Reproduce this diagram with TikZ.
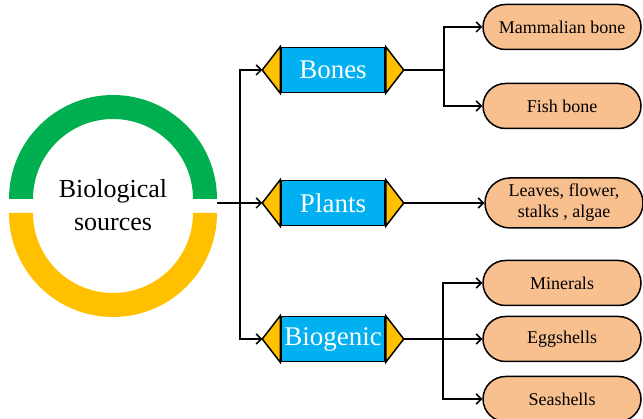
\documentclass[tikz,border=0pt]{standalone}
\usepackage{fontspec}
\setmainfont{Liberation Serif}
\usetikzlibrary{shapes.misc,arrows.meta}
\definecolor{ringgreen}{HTML}{00B050}
\definecolor{ringyellow}{HTML}{FFC000}
\definecolor{catblue}{HTML}{00B0F0}
\definecolor{leafpeach}{HTML}{F8BF8F}
\tikzset{
  catbox/.style={draw, line width=1.5pt, fill=catblue, text=white, minimum width=104pt, minimum height=45pt, inner sep=0pt, font=\fontsize{27}{29}\selectfont},
  tipfill/.style={draw, line width=1.5pt, fill=ringyellow, line join=miter},
  pill/.style={rounded rectangle, draw, line width=1.5pt, fill=leafpeach, minimum width=158pt, minimum height=45pt, inner sep=0pt, align=center, font=\fontsize{18}{21}\selectfont},
  link/.style={line width=1.5pt},
  arr/.style={line width=1.5pt, -{Straight Barb[length=5pt,width=10pt]}}
}
\begin{document}
\begin{tikzpicture}[x=1pt,y=-1pt]
				\useasboundingbox (0,0) rectangle (643,419);
				\begin{scope}
						% ring, two halves
						\fill[ringgreen] (9,199) arc[start angle=180, end angle=360, radius=104] -- (193,199) arc[start angle=360, end angle=180, radius=80] -- cycle;
						\fill[ringyellow] (9,213) arc[start angle=180, end angle=0, radius=104] -- (193,213) arc[start angle=0, end angle=180, radius=80] -- cycle;
						\node[align=center, font=\fontsize{26}{33}\selectfont] (src) at (113,205) {Biological\\sources};
						\coordinate (srcout) at (217,203);
						\coordinate (split) at (240,203);
				\end{scope}

				\begin{scope}
						\node[catbox] (bones) at (333,70) {Bones};
						\node[catbox] (plants) at (333,203) {Plants};
						\node[catbox] (biogenic) at (333,339) {Biogenic};
						\foreach \c in {bones,plants,biogenic}{
								\draw[tipfill] (\c.north west) -- ([xshift=-18pt]\c.west) coordinate (\c in) -- (\c.south west) -- cycle;
								\draw[tipfill] (\c.north east) -- ([xshift=18pt]\c.east) coordinate (\c out) -- (\c.south east) -- cycle;
						}
				\end{scope}

				\begin{scope}
						\node[pill] (mammal) at (562,27) {Mammalian bone};
						\node[pill] (fish) at (562,106) {Fish bone};
						\node[pill, minimum height=50pt] (leaves) at (564,203) {Leaves, flower,\\stalks , algae};
						\node[pill] (minerals) at (562,283) {Minerals};
						\node[pill] (eggs) at (562,339) {Eggshells};
						\node[pill] (seas) at (562,399) {Seashells};
				\end{scope}

	\draw[link] (srcout) -- (split);
	\draw[arr] (split) |- (bonesin);
	\draw[arr] (split) -- (plantsin);
	\draw[arr] (split) |- (biogenicin);

	\draw[link] (bonesout) -- ++(40,0) coordinate (bsplit);
	\draw[arr] (bsplit) |- (mammal.west);
	\draw[arr] (bsplit) |- (fish.west);
	\draw[arr] (plantsout) -- (leaves.west);
	\draw[arr] (biogenicout) -- (eggs.west);
	\coordinate (gsplit) at (443,339);
	\draw[arr] (gsplit) |- (minerals.west);
	\draw[arr] (gsplit) |- (seas.west);

\end{tikzpicture}
\end{document}
